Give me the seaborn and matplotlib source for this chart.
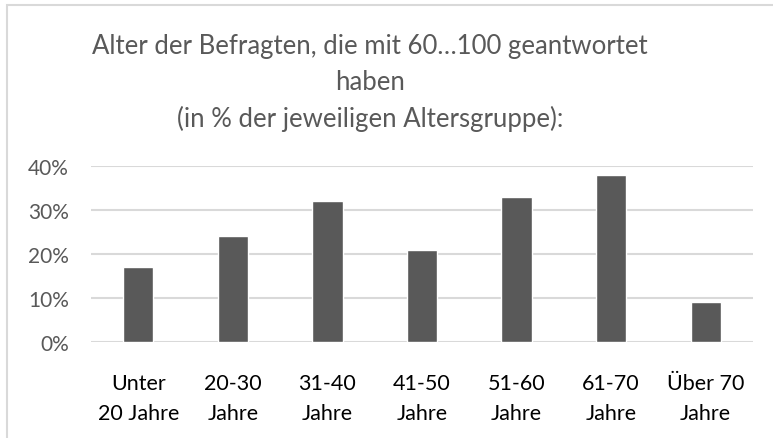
import matplotlib
matplotlib.use("Agg")
import matplotlib.pyplot as plt
import seaborn as sns
import pandas as pd
from matplotlib.patches import Rectangle

categories = ["Unter\n20 Jahre", "20-30\nJahre", "31-40\nJahre", "41-50\nJahre",
              "51-60\nJahre", "61-70\nJahre", "Über 70\nJahre"]
values = [17, 24, 32, 21, 33, 38, 9]
yticks = [0, 10, 20, 30, 40]
ytick_labels = ["0%", "10%", "20%", "30%", "40%"]
title = "Alter der Befragten, die mit 60…100 geantwortet\nhaben\n(in % der jeweiligen Altersgruppe):"

sns.set_theme(style="white")
plt.rcParams['font.family'] = ['Lato', 'DejaVu Sans']

df = pd.DataFrame({"cat": categories, "val": values})
W, H = 773, 439
fig = plt.figure(figsize=(W/100, H/100), dpi=100)
ax = fig.add_axes([91/W, 1-343/H, (753-91)/W, (343-167)/H])

sns.barplot(data=df, x="cat", y="val", color="#595959", width=0.32, ax=ax, saturation=1)
ax.set_ylim(0, 40)
ax.set_xlim(-0.5, 6.5)
ax.set_yticks(yticks)
ax.set_yticklabels(ytick_labels, color="#595959", fontsize=15)
ax.tick_params(axis='x', labelsize=15.5, colors="#000000", pad=22, length=0)
ax.tick_params(axis='y', pad=16, length=0)
for t in ax.get_xticklabels():
    t.set_linespacing(1.65)
ax.set_xlabel("")
ax.set_ylabel("")
ax.grid(axis='y', color="#d9d9d9", linewidth=1.5)
ax.set_axisbelow(True)
for s in ax.spines.values():
    s.set_visible(False)

fig.text(370/W, 1-83/H, title, ha="center", va="center", fontsize=18.5,
         color="#595959", linespacing=1.55)

fig.patches.append(Rectangle((7/W, -0.1), 1.1, 1 - 6/H + 0.1, transform=fig.transFigure,
                             fill=False, edgecolor="#d9d9d9", linewidth=1.5))

fig.savefig("out.png", dpi=100)
